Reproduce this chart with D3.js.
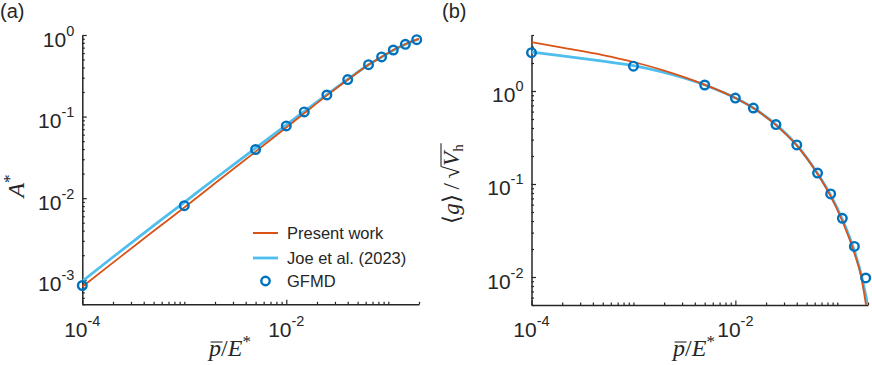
<!DOCTYPE html>
<html>
<head>
<meta charset="utf-8">
<script src="https://cdn.jsdelivr.net/npm/d3@7"></script>
<style>
  body { margin: 0; background: #fff; }
  text { font-family: "Liberation Sans", Arial, sans-serif; fill: #262626; }
  .math { font-family: "Liberation Serif", "Times New Roman", serif; }
</style>
</head>
<body>
<svg id="fig" width="872" height="365"></svg>
<script>
/*
Data
*/

// GFMD simulation points
const pGFMD    = [1e-4, 1e-3, 5e-3, 0.01, 0.015, 0.025, 0.04, 0.064, 0.086, 0.112, 0.147, 0.19];
const areaGFMD = [8.5e-4, 8.1e-3, 0.0395, 0.0769, 0.114, 0.184, 0.284, 0.433, 0.538, 0.655, 0.769, 0.876];
const gapGFMD  = [2.58, 1.85, 1.16, 0.84, 0.656, 0.435, 0.263, 0.131, 0.0783, 0.0427, 0.0213, 0.00976];

// theory curves
const pCurve      = [1e-4, 2e-4, 5e-4, 1e-3, 2e-3, 5e-3, 0.01, 0.015, 0.025, 0.04, 0.064, 0.086, 0.112, 0.146, 0.17, 0.19, 0.2];
const areaPresent = [8.2e-4, 1.62e-3, 3.95e-3, 7.7e-3, 0.0152, 0.0372, 0.0735, 0.11, 0.182, 0.283, 0.433, 0.54, 0.655, 0.77, 0.835, 0.88, 0.9];
const areaJoe     = [9.6e-4, 1.9e-3, 4.6e-3, 8.9e-3, 0.0173, 0.041, 0.079, 0.116, 0.186, 0.285, 0.432, 0.535, 0.65, 0.765, 0.83, 0.875, 0.895];
const gapPresent  = [3.35, 2.92, 2.43, 2.05, 1.66, 1.17, 0.84, 0.655, 0.43, 0.26, 0.128, 0.074, 0.04, 0.0185, 0.0105, 0.0052, 0.0035];
const gapJoe      = [2.62, 2.39, 2.09, 1.87, 1.58, 1.16, 0.84, 0.656, 0.435, 0.262, 0.13, 0.076, 0.0415, 0.0195, 0.011, 0.0064, 0.005];

// ticks
const xMajor    = [1e-4, 1e-2];
const areaMajor = [1e-3, 1e-2, 1e-1, 1];
const gapMajor  = [1e-2, 1e-1, 1];

const legendLabels = ["Present work", "Joe et al. (2023)", "GFMD"];

/*
Style
*/

const AXIS  = "#262626";
const RED   = "#D95319";
const LBLUE = "#4DBEEE";
const DBLUE = "#0072BD";

const svg = d3.select("#fig");

// every k*10^e inside the domain that is not a major tick
function minorTicks(domain, major) {
  let out = [];
  let lo = Math.floor(Math.log10(domain[0])), hi = Math.ceil(Math.log10(domain[1]));
  for (let e = lo; e <= hi; e++) {
    for (let k = 1; k <= 9; k++) {
      let v = k * Math.pow(10, e);
      if (v >= domain[0] * 0.999 && v <= domain[1] * 1.001 &&
          !major.some(m => Math.abs(m - v) / m < 1e-6)) out.push(v);
    }
  }
  return out;
}

function powLabel(text, exp) {
  text.append("tspan").text("10");
  text.append("tspan").attr("dy", -11).attr("font-size", 14.5).text(exp);
}

function drawPanel(cfg) {
  let self = {};
  self.x = d3.scaleLog().domain([1e-4, 0.2]).range([cfg.left, cfg.right]);
  self.y = d3.scaleLog().domain(cfg.yDomain).range([cfg.bottom, cfg.top]);

  let g = svg.append("g");

  // clip for curves
  g.append("clipPath").attr("id", "clip-" + cfg.tag)
    .append("rect")
    .attr("x", cfg.left).attr("y", cfg.top)
    .attr("width", cfg.right - cfg.left).attr("height", cfg.bottom - cfg.top);

  // x axis
  let gx = g.append("g").attr("transform", `translate(0,${cfg.bottom})`);
  gx.call(d3.axisBottom(self.x).tickValues(xMajor).tickSize(-4.5).tickSizeOuter(0).tickFormat(""));
  gx.append("g")
    .call(d3.axisBottom(self.x).tickValues(minorTicks(self.x.domain(), xMajor)).tickSize(-2.5).tickSizeOuter(0).tickFormat(""))
    .select(".domain").remove();

  // y axis
  let gy = g.append("g").attr("transform", `translate(${cfg.left},0)`);
  gy.call(d3.axisLeft(self.y).tickValues(cfg.yMajor).tickSize(-4.5).tickSizeOuter(0).tickFormat(""));
  gy.append("g")
    .call(d3.axisLeft(self.y).tickValues(minorTicks(self.y.domain(), cfg.yMajor)).tickSize(-2.5).tickSizeOuter(0).tickFormat(""))
    .select(".domain").remove();

  g.selectAll(".domain").attr("stroke", AXIS).attr("stroke-width", 1.5);
  g.selectAll(".tick line").attr("stroke", AXIS).attr("stroke-width", 1.2);

  // tick labels
  xMajor.forEach(v => {
    let t = g.append("text").attr("x", self.x(v)).attr("y", 337)
      .attr("text-anchor", "middle").attr("font-size", 21);
    powLabel(t, String(Math.round(Math.log10(v))));
  });
  cfg.yMajor.forEach(v => {
    let t = g.append("text").attr("x", cfg.left - 8).attr("y", self.y(v) + 11.5)
      .attr("text-anchor", "end").attr("font-size", 21);
    powLabel(t, String(Math.round(Math.log10(v))));
  });

  // curves
  let line = d3.line()
    .x((d, i) => self.x(pCurve[i]))
    .y(d => self.y(d))
    .curve(d3.curveMonotoneX);

  g.append("path").datum(cfg.joe)
    .attr("clip-path", `url(#clip-${cfg.tag})`)
    .attr("fill", "none").attr("stroke", LBLUE).attr("stroke-width", 2.8)
    .attr("d", line);
  g.append("path").datum(cfg.present)
    .attr("clip-path", `url(#clip-${cfg.tag})`)
    .attr("fill", "none").attr("stroke", RED).attr("stroke-width", 1.8)
    .attr("d", line);

  // GFMD markers
  g.selectAll("circle.gfmd").data(cfg.gfmd).enter()
    .append("circle").attr("class", "gfmd")
    .attr("cx", (d, i) => self.x(pGFMD[i]))
    .attr("cy", d => self.y(d))
    .attr("r", 4.3)
    .attr("fill", "none").attr("stroke", DBLUE).attr("stroke-width", 2.4);

  // panel tag
  g.append("text").attr("x", cfg.tagX).attr("y", 18).attr("font-size", 20).text(cfg.tagText);

  // x label  p̄/E*
  let xl = g.append("text").attr("class", "math")
    .attr("x", cfg.xLabelX).attr("y", 356).attr("text-anchor", "middle").attr("font-size", 24);
  xl.append("tspan").attr("font-style", "italic").text("p");
  xl.append("tspan").text("/");
  xl.append("tspan").attr("font-style", "italic").text("E");
  xl.append("tspan").attr("dy", -9.5).attr("font-size", 17).text("*");
  let n = xl.node();
  let px0 = n.getStartPositionOfChar(0).x, px1 = n.getEndPositionOfChar(0).x;
  g.append("line")
    .attr("x1", px0 + 1.5).attr("x2", px1 + 1.5)
    .attr("y1", 356 - 14).attr("y2", 356 - 14)
    .attr("stroke", AXIS).attr("stroke-width", 1.1);

  self.g = g;
  return self;
}

/*
Panel (a)
*/

let pa = drawPanel({
  tag: "a", tagText: "(a)", tagX: 0,
  left: 82.3, right: 419, top: 35, bottom: 304.3,
  yDomain: [5e-4, 1], yMajor: areaMajor,
  present: areaPresent, joe: areaJoe, gfmd: areaGFMD,
  xLabelX: 230
});

// y label A*
let ya = pa.g.append("text").attr("class", "math")
  .attr("transform", "translate(24,186) rotate(-90)")
  .attr("text-anchor", "middle").attr("font-size", 24);
ya.append("tspan").attr("font-style", "italic").text("A");
ya.append("tspan").attr("dy", -9.5).attr("font-size", 17).text("*");

// legend
const legendY = [233, 258, 281];
legendLabels.forEach((name, i) => {
  let y = legendY[i];
  if (i === 0) {
    pa.g.append("line").attr("x1", 253).attr("x2", 278).attr("y1", y).attr("y2", y)
      .attr("stroke", RED).attr("stroke-width", 2);
  } else if (i === 1) {
    pa.g.append("line").attr("x1", 253).attr("x2", 278).attr("y1", y).attr("y2", y)
      .attr("stroke", LBLUE).attr("stroke-width", 2.8);
  } else {
    pa.g.append("circle").attr("cx", 265.5).attr("cy", y).attr("r", 4.2)
      .attr("fill", "none").attr("stroke", DBLUE).attr("stroke-width", 2.4);
  }
  pa.g.append("text").attr("x", 287).attr("y", y + 6).attr("font-size", 16.5).text(name);
});

/*
Panel (b)
*/

let pb = drawPanel({
  tag: "b", tagText: "(b)", tagX: 442,
  left: 531.5, right: 868, top: 35, bottom: 305,
  yDomain: [5e-3, 4], yMajor: gapMajor,
  present: gapPresent, joe: gapJoe, gfmd: gapGFMD,
  xLabelX: 694
});

// y label <g>/sqrt(V_h)
const ybT = "translate(459,184) rotate(-90)";
let yb = pb.g.append("text").attr("class", "math")
  .attr("transform", ybT)
  .attr("text-anchor", "middle").attr("font-size", 23);
yb.append("tspan").text("\u27E8");
yb.append("tspan").attr("font-style", "italic").text("g");
yb.append("tspan").text("\u27E9\u2009/\u2009\u221A");
yb.append("tspan").attr("font-style", "italic").text("V");
yb.append("tspan").attr("dy", 4).attr("font-size", 15).text("h");
let nb = yb.node();
let nc = nb.getNumberOfChars();
let sx0 = nb.getEndPositionOfChar(nc - 3).x;   // end of radical
let sx1 = nb.getEndPositionOfChar(nc - 1).x;   // end of subscript
pb.g.append("line")
  .attr("transform", ybT)
  .attr("x1", sx0 - 0.5).attr("x2", sx1 + 1)
  .attr("y1", -18).attr("y2", -18)
  .attr("stroke", AXIS).attr("stroke-width", 1.1);
</script>
</body>
</html>
